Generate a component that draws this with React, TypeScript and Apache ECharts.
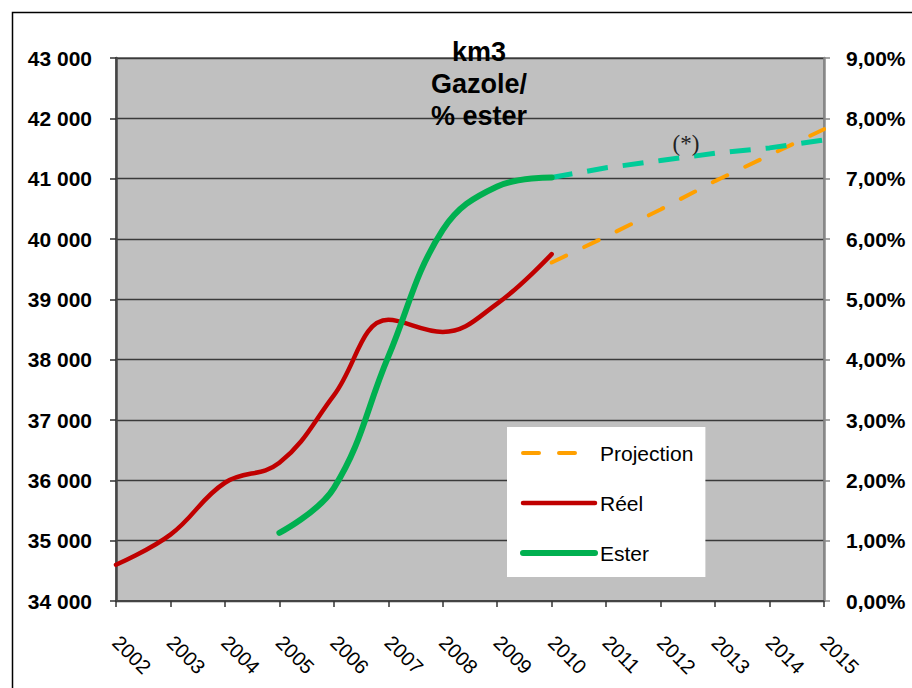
import React, { useEffect, useRef } from 'react';
import * as echarts from 'echarts';

const years = ['2002', '2003', '2004', '2005', '2006', '2007', '2008', '2009', '2010', '2011', '2012', '2013', '2014', '2015'];
const reel = [34600, 35100, 35960, 36290, 37410, 38660, 38460, 38930, 39750, null, null, null, null, null];
const ester = [null, null, null, 1.13, 1.87, 4.05, 6.15, 6.87, 7.02, null, null, null, null, null];
const projectionGazole = [null, null, null, null, null, null, null, null, 39610, 40040, 40490, 40960, 41390, 41820];
const projectionEster = [null, null, null, null, null, null, null, null, 7.02, 7.18, 7.3, 7.42, 7.51, 7.64];
const leftAxisRange = { min: 34000, max: 43000, interval: 1000 };
const rightAxisRange = { min: 0, max: 9, interval: 1 };
const titleText = 'km3\nGazole/\n% ester';
const noteText = '(*)';

const FONT = '"Liberation Sans", Arial, sans-serif';

export default function App() {
  const ref = useRef<HTMLDivElement>(null);
  useEffect(() => {
    if (!ref.current) return;
    const chart = echarts.init(ref.current, null, { renderer: 'svg' });
    chart.setOption({
      animation: false,
      backgroundColor: '#ffffff',
      title: {
        text: titleText,
        left: 474,
        top: 31,
        textAlign: 'center',
        textStyle: { fontFamily: FONT, fontSize: 27, fontWeight: 'bold', color: '#000', lineHeight: 32 },
      },
      legend: {
        data: ['Projection', 'Réel', 'Ester'],
        orient: 'vertical',
        left: 507,
        top: 427,
        padding: [15, 12, 13, 13],
        backgroundColor: '#ffffff',
        itemWidth: 72,
        itemHeight: 22,
        itemGap: 28,
        itemStyle: { opacity: 0 },
        lineStyle: { width: 'inherit' },
        textStyle: { fontFamily: FONT, fontSize: 21, color: '#000', lineHeight: 22 },
        selectedMode: false,
      },
      grid: {
        left: 116,
        right: 88,
        top: 58,
        bottom: 87,
        show: true,
        backgroundColor: '#c0c0c0',
        borderColor: '#888888',
        borderWidth: 2,
      },
      xAxis: {
        type: 'category',
        data: years,
        boundaryGap: false,
        axisLine: { lineStyle: { color: '#444', width: 2 } },
        axisTick: { show: true, length: 6, interval: 0, lineStyle: { color: '#333', width: 1.5 } },
        axisLabel: {
          interval: 0,
          rotate: -45,
          align: 'left',
          verticalAlign: 'middle',
          margin: 38,
          fontFamily: FONT,
          fontSize: 20,
          color: '#000',
        },
        splitLine: { show: false },
      },
      yAxis: [
        {
          type: 'value',
          position: 'left',
          min: leftAxisRange.min,
          max: leftAxisRange.max,
          interval: leftAxisRange.interval,
          axisLine: { show: true, lineStyle: { color: '#444', width: 2.5 } },
          axisTick: { show: true, length: 6, lineStyle: { color: '#333', width: 1.5 } },
          axisLabel: {
            margin: 24,
            fontFamily: FONT,
            fontSize: 21,
            fontWeight: 'bold',
            color: '#000',
            formatter: (v: number) => String(v).replace(/\B(?=(\d{3})+(?!\d))/g, ' '),
          },
          splitLine: { show: true, lineStyle: { color: '#3a3a3a', width: 1.3 } },
        },
        {
          type: 'value',
          position: 'right',
          min: rightAxisRange.min,
          max: rightAxisRange.max,
          interval: rightAxisRange.interval,
          axisLine: { show: true, lineStyle: { color: '#888', width: 2.5 } },
          axisTick: { show: true, length: 6, lineStyle: { color: '#888', width: 1.5 } },
          axisLabel: {
            margin: 22,
            fontFamily: FONT,
            fontSize: 21,
            fontWeight: 'bold',
            color: '#000',
            formatter: (v: number) => v.toFixed(2).replace('.', ',') + '%',
          },
          splitLine: { show: false },
        },
      ],
      series: [
        {
          name: 'Projection',
          type: 'line',
          yAxisIndex: 0,
          data: projectionGazole,
          symbol: 'none',
          lineStyle: { color: '#FFA000', width: 4, type: [16, 20], cap: 'round' },
          itemStyle: { color: '#FFA000' },
          z: 3,
        },
        {
          name: 'Réel',
          type: 'line',
          yAxisIndex: 0,
          data: reel,
          symbol: 'none',
          smooth: 0.4,
          lineStyle: { color: '#C00000', width: 4.5, cap: 'round' },
          itemStyle: { color: '#C00000' },
          z: 4,
        },
        {
          name: 'Ester',
          type: 'line',
          yAxisIndex: 1,
          data: ester,
          symbol: 'none',
          smooth: 0.4,
          lineStyle: { color: '#00B050', width: 6, cap: 'round' },
          itemStyle: { color: '#00B050' },
          z: 5,
        },
        {
          name: 'Projection',
          type: 'line',
          yAxisIndex: 1,
          data: projectionEster,
          symbol: 'none',
          lineStyle: { color: '#00CC99', width: 5, type: [21, 15], cap: 'butt' },
          itemStyle: { color: '#00CC99' },
          z: 3,
        },
      ],
      graphic: [
        {
          type: 'rect',
          shape: { x: 12.5, y: 12.5, width: 1000, height: 1000 },
          style: { fill: 'none', stroke: '#000', lineWidth: 1.5 },
          silent: true,
          z: 0,
        },
        {
          type: 'text',
          x: 686,
          y: 143,
          style: {
            text: noteText,
            fontFamily: '"Liberation Serif", "Times New Roman", serif',
            fontSize: 23,
            fill: '#222',
            align: 'center',
            verticalAlign: 'middle',
          },
          silent: true,
          z: 10,
        },
      ],
    });
    return () => chart.dispose();
  }, []);
  return <div ref={ref} style={{ position: 'fixed', left: 0, top: 0, width: 912, height: 688 }} />;
}
